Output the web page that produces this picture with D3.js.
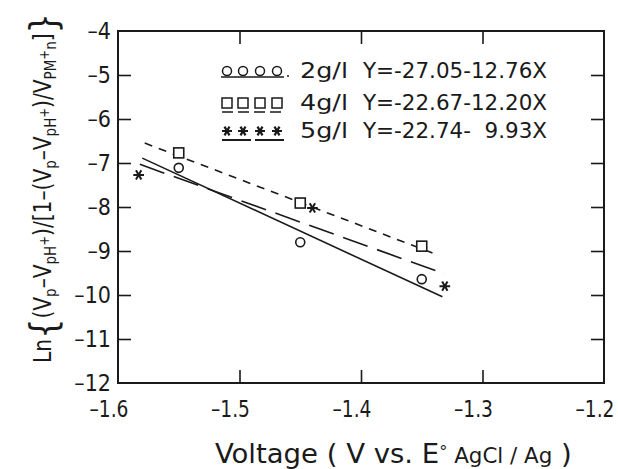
<!DOCTYPE html>
<html>
<head>
<meta charset="utf-8">
<script src="https://cdn.jsdelivr.net/npm/d3@7"></script>
<style>
  body { margin: 0; background: #fff; }
  svg text { font-family: "DejaVu Sans Condensed", "DejaVu Sans", sans-serif; font-stretch: condensed; fill: #1a1a1a; }
</style>
</head>
<body>
<div id="chart"></div>
<script>
(function () {

  // measured points for each concentration
  var concLabels = ["2g/l", "4g/l", "5g/l"],
    voltX = [-1.55, -1.45, -1.35],
    circleY = [-7.11, -8.80, -9.64],
    squareY = [-6.77, -7.91, -8.89],
    starX = [-1.583, -1.44, -1.331],
    starY = [-7.27, -8.02, -9.80],
    // fitted lines: intercept, slope and the x range they are drawn over
    fitIntercept = [-27.05, -23.18, -22.74],
    fitSlope = [-12.76, -10.54, -9.93],
    fitFrom = [-1.580, -1.578, -1.582],
    fitTo = [-1.333, -1.337, -1.331],
    // printed equations
    eqText = ["Y=-27.05-12.76X", "Y=-22.67-12.20X", "Y=-22.74-  9.93X"],
    xTicks = [-1.6, -1.5, -1.4, -1.3, -1.2],
    yTicks = [-4, -5, -6, -7, -8, -9, -10, -11, -12];

  var w = 618,
    h = 469,
    left = 118, right = 604, top = 31, bottom = 383,
    ink = "#1a1a1a",
    svg, x, y;

  function fmt(v) {
    // drafting style dash for the minus sign
    return String(v).replace("-", "\u2013");
  }

  function createSvg() {
    svg = d3.select("#chart").append("svg")
      .attr("width", w)
      .attr("height", h);
    x = d3.scaleLinear().domain([-1.6, -1.2]).range([left, right]);
    y = d3.scaleLinear().domain([-12, -4]).range([bottom, top]);
  }

  // narrow the glyphs of a plain text by a factor
  function squeeze(sel, f) {
    sel.each(function () {
      var len = this.getComputedTextLength();
      d3.select(this).attr("textLength", len * f).attr("lengthAdjust", "spacingAndGlyphs");
    });
  }

  function drawAxes() {
    svg.append("rect")
      .attr("x", left).attr("y", top)
      .attr("width", right - left).attr("height", bottom - top)
      .attr("fill", "none").attr("stroke", ink).attr("stroke-width", 2);

    var tickLen = 13;
    var inner = function (axis, vals) {
      return axis.tickValues(vals).tickSizeInner(-tickLen).tickSizeOuter(0).tickFormat("");
    };
    var midX = xTicks.slice(1, -1), midY = yTicks.slice(1, -1);

    [[d3.axisBottom(x), midX, "translate(0," + bottom + ")"],
     [d3.axisTop(x), midX, "translate(0," + top + ")"],
     [d3.axisLeft(y), midY, "translate(" + left + ",0)"],
     [d3.axisRight(y), midY, "translate(" + right + ",0)"]].forEach(function (a) {
      var g = svg.append("g").attr("transform", a[2]).call(inner(a[0], a[1]));
      g.select(".domain").remove();
      g.selectAll("line").attr("stroke", ink).attr("stroke-width", 1.6);
    });

    // tick labels
    var xl = svg.append("g").selectAll("text")
      .data(xTicks).enter().append("text")
      .attr("x", function (d) { return x(d) - 9; })
      .attr("y", 417)
      .attr("text-anchor", "middle")
      .style("font-size", "23px")
      .text(fmt);
    squeeze(xl, 0.9);

    var yl = svg.append("g").selectAll("text")
      .data(yTicks).enter().append("text")
      .attr("x", 111)
      .attr("y", function (d) { return y(d) + 8; })
      .attr("text-anchor", "end")
      .style("font-size", "23px")
      .text(fmt);

    // x title
    var xt = svg.append("text")
      .attr("x", 215).attr("y", 463)
      .style("font-size", "27px");
    xt.append("tspan").text("Voltage ( V  vs. E");
    xt.append("tspan").attr("baseline-shift", "6px").style("font-size", "16px").text("\u00b0");
    xt.append("tspan").style("font-size", "21px").text(" AgCl / Ag");
    xt.append("tspan").text(" )");
    fitWidth(xt, 357, false);

    // y title, reads bottom to top
    var yg = svg.append("g").attr("transform", "translate(51,188) rotate(-90)");
    var yt = yg.append("text").attr("text-anchor", "middle").style("font-size", "24px");
    var parts = [
      ["Ln", 0, 24], ["{", -5, 38], ["(V", 0, 24], ["p", -5, 16], ["\u2013V", 0, 24], ["pH", -5, 16], ["+", 2, 14],
      [")/[1\u2013(V", 0, 24], ["p", -5, 16], ["\u2013V", 0, 24], ["pH", -5, 16], ["+", 2, 14],
      [")/V", 0, 24], ["PM", -5, 16], ["+", 2, 14], ["n", -5, 16], ["]", 0, 24], ["}", -5, 38]
    ];
    parts.forEach(function (p) {
      yt.append("tspan").attr("baseline-shift", p[1] + "px").style("font-size", p[2] + "px").text(p[0]);
    });
    fitWidth(yt, 350, true);
  }

  // squeeze a text so it spans the given width
  function fitWidth(t, width, centred) {
    var bb = t.node().getBBox();
    var s = width / bb.width;
    var ox = centred ? 0 : +t.attr("x");
    t.attr("transform", "translate(" + ox + ",0) scale(" + s + ",1) translate(" + (-ox) + ",0)");
  }

  function drawLines() {
    var dashes = [null, "8,7", "26,10"];
    fitIntercept.forEach(function (a, i) {
      var b = fitSlope[i];
      svg.append("line")
        .attr("x1", x(fitFrom[i])).attr("y1", y(a + b * fitFrom[i]))
        .attr("x2", x(fitTo[i])).attr("y2", y(a + b * fitTo[i]))
        .attr("stroke", ink).attr("stroke-width", 1.6)
        .attr("stroke-dasharray", dashes[i]);
    });
  }

  function drawPoints() {
    svg.append("g").selectAll("circle")
      .data(voltX).enter().append("circle")
      .attr("cx", function (d) { return x(d); })
      .attr("cy", function (d, i) { return y(circleY[i]); })
      .attr("r", 4.5)
      .attr("fill", "#fff").attr("stroke", ink).attr("stroke-width", 1.6);

    svg.append("g").selectAll("rect")
      .data(voltX).enter().append("rect")
      .attr("x", function (d) { return x(d) - 5; })
      .attr("y", function (d, i) { return y(squareY[i]) - 5; })
      .attr("width", 10).attr("height", 10)
      .attr("fill", "#fff").attr("stroke", ink).attr("stroke-width", 1.6);

    var star = d3.symbol(d3.symbolAsterisk, 80);
    svg.append("g").selectAll("path")
      .data(starX).enter().append("path")
      .attr("d", star)
      .attr("transform", function (d, i) { return "translate(" + x(d) + "," + y(starY[i]) + ") rotate(90)"; })
      .attr("fill", "none").attr("stroke", ink).attr("stroke-width", 2);
  }

  function drawLegend() {
    var rowY = [71, 103, 131],
      symX = [227, 243, 260, 277],
      g = svg.append("g");

    // row 1: circles, solid underline
    g.selectAll(".lc").data(symX).enter().append("circle")
      .attr("cx", function (d) { return d; }).attr("cy", rowY[0]).attr("r", 4.5)
      .attr("fill", "none").attr("stroke", ink).attr("stroke-width", 1.5);
    g.append("line").attr("x1", 221).attr("x2", 284).attr("y1", rowY[0] + 6).attr("y2", rowY[0] + 6)
      .attr("stroke", ink).attr("stroke-width", 1.6);
    g.append("circle").attr("cx", 288).attr("cy", rowY[0] + 5).attr("r", 1).attr("fill", ink);

    // row 2: squares, short dashes
    g.selectAll(".ls").data(symX).enter().append("rect")
      .attr("x", function (d) { return d - 5; }).attr("y", rowY[1] - 5)
      .attr("width", 10).attr("height", 10)
      .attr("fill", "none").attr("stroke", ink).attr("stroke-width", 1.5);
    g.append("line").attr("x1", 222).attr("x2", 284).attr("y1", rowY[1] + 9).attr("y2", rowY[1] + 9)
      .attr("stroke", ink).attr("stroke-width", 1.6).attr("stroke-dasharray", "11,5");

    // row 3: asterisks, long dashes
    var star = d3.symbol(d3.symbolAsterisk, 70);
    g.selectAll(".la").data(symX).enter().append("path")
      .attr("d", star)
      .attr("transform", function (d) { return "translate(" + d + "," + rowY[2] + ") rotate(90)"; })
      .attr("fill", "none").attr("stroke", ink).attr("stroke-width", 2.2);
    g.append("line").attr("x1", 222).attr("x2", 284).attr("y1", rowY[2] + 9).attr("y2", rowY[2] + 9)
      .attr("stroke", ink).attr("stroke-width", 2).attr("stroke-dasharray", "29,4");

    concLabels.forEach(function (c, i) {
      g.append("text").attr("x", 300).attr("y", rowY[i] + 7)
        .attr("textLength", 48).attr("lengthAdjust", "spacingAndGlyphs")
        .style("font-size", "21px").text(c);
      g.append("text").attr("x", 363).attr("y", rowY[i] + 7)
        .attr("textLength", 184).attr("lengthAdjust", "spacingAndGlyphs")
        .style("font-size", "21px").style("white-space", "pre").text(eqText[i]);
    });
  }

  createSvg();
  drawAxes();
  drawLines();
  drawPoints();
  drawLegend();
})();
</script>
</body>
</html>
